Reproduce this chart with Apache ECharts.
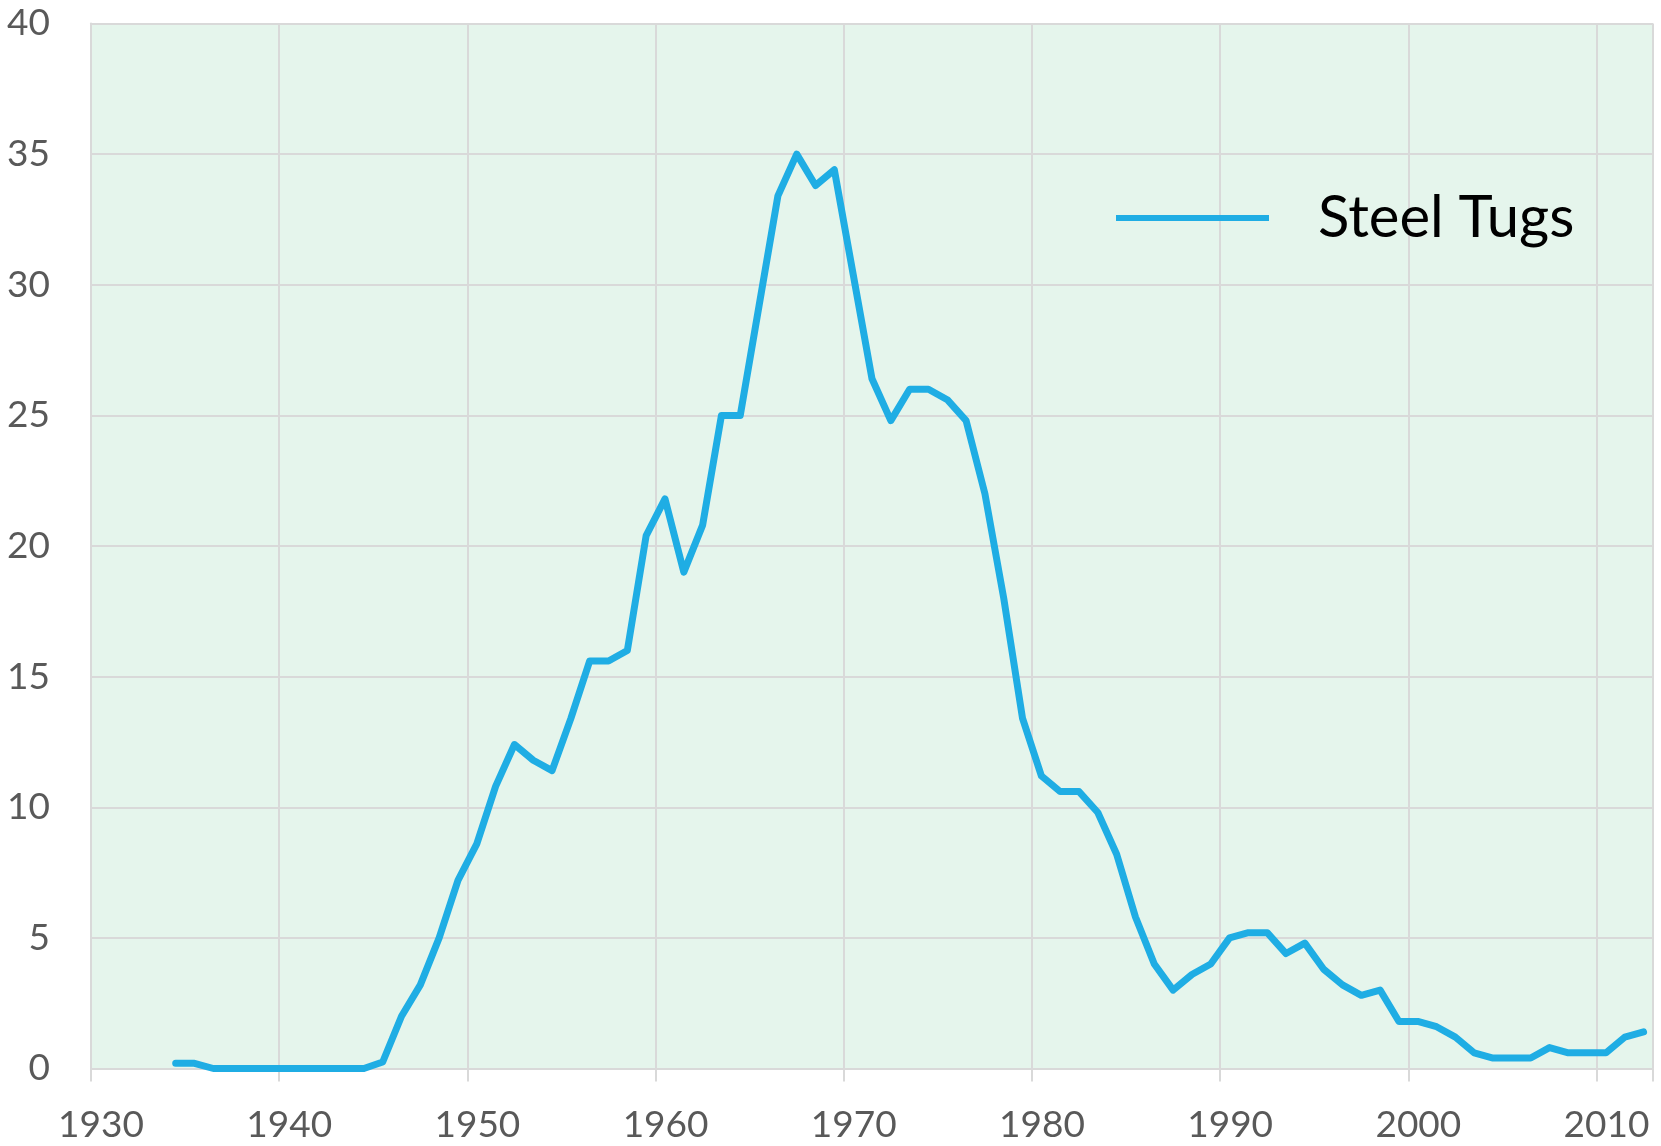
<!DOCTYPE html>
<html>
<head>
<meta charset="utf-8">
<script src="https://cdn.jsdelivr.net/npm/echarts@6/dist/echarts.min.js"></script>
<style>
  html, body { margin: 0; padding: 0; background: #fff; }
  #chart { width: 1661px; height: 1146px; }
</style>
</head>
<body>
<div id="chart"></div>
<script>
// one value per year, plotted at mid-year as in the original
var years = [];
for (var y = 1934; y <= 2012; y++) years.push(y);

var steelTugs = [
  0.2, 0.2, 0, 0, 0, 0, 0, 0, 0, 0,          // 1934-1943
  0, 0.25, 2.0, 3.2, 5.0, 7.2, 8.6, 10.8, 12.4, 11.8, // 1944-1953
  11.4, 13.4, 15.6, 15.6, 16.0, 20.4, 21.8, 19.0, 20.8, 25.0, // 1954-1963
  25.0, 29.2, 33.4, 35.0, 33.8, 34.4, 30.4, 26.4, 24.8, 26.0, // 1964-1973
  26.0, 25.6, 24.8, 22.0, 18.0, 13.4, 11.2, 10.6, 10.6, 9.8,  // 1974-1983
  8.2, 5.8, 4.0, 3.0, 3.6, 4.0, 5.0, 5.2, 5.2, 4.4,           // 1984-1993
  4.8, 3.8, 3.2, 2.8, 3.0, 1.8, 1.8, 1.6, 1.2, 0.6,           // 1994-2003
  0.4, 0.4, 0.4, 0.8, 0.6, 0.6, 0.6, 1.2, 1.4                 // 2004-2012
];

var xTicks = [1930, 1940, 1950, 1960, 1970, 1980, 1990, 2000, 2010];
var yTicks = [0, 5, 10, 15, 20, 25, 30, 35, 40];

var points = years.map(function (yr, i) { return [yr + 0.5, steelTugs[i]]; });

var chart = echarts.init(document.getElementById('chart'));
chart.setOption({
  backgroundColor: '#ffffff',
  animation: false,
  textStyle: { fontFamily: 'Lato' },
  grid: {
    left: 91, top: 23.5, right: 8, bottom: 77.5,
    show: true, backgroundColor: '#e5f5ec', borderWidth: 0
  },
  legend: {
    left: 1116, top: 183, padding: 0,
    icon: 'rect', itemWidth: 153, itemHeight: 6,
    textStyle: { fontSize: 58, color: '#000', lineHeight: 70, padding: [0, 0, 0, 44] },
    data: ['Steel Tugs']
  },
  xAxis: {
    type: 'value',
    min: xTicks[0], max: 2013, interval: 10,
    axisLine: { show: true, lineStyle: { color: '#d9d9d9', width: 2 } },
    axisTick: { show: true, length: 13, lineStyle: { color: '#d9d9d9', width: 2 } },
    splitLine: { show: true, lineStyle: { color: '#d9d9d9', width: 2 } },
    axisLabel: {
      fontSize: 37, color: '#595959', margin: 38, padding: [0, 0, 0, 20],
      formatter: function (v) { return xTicks.indexOf(v) >= 0 ? String(v) : ''; }
    }
  },
  yAxis: {
    type: 'value',
    min: yTicks[0], max: yTicks[yTicks.length - 1], interval: 5,
    axisLine: { show: true, lineStyle: { color: '#d9d9d9', width: 2 } },
    axisTick: { show: false },
    splitLine: { show: true, lineStyle: { color: '#d9d9d9', width: 2 } },
    axisLabel: { fontSize: 37, color: '#595959', margin: 41 }
  },
  series: [{
    name: 'Steel Tugs',
    type: 'line',
    data: points,
    showSymbol: false,
    color: '#1fade4',
    lineStyle: { width: 7, color: '#1fade4', cap: 'round', join: 'round' }
  }]
});
</script>
</body>
</html>
